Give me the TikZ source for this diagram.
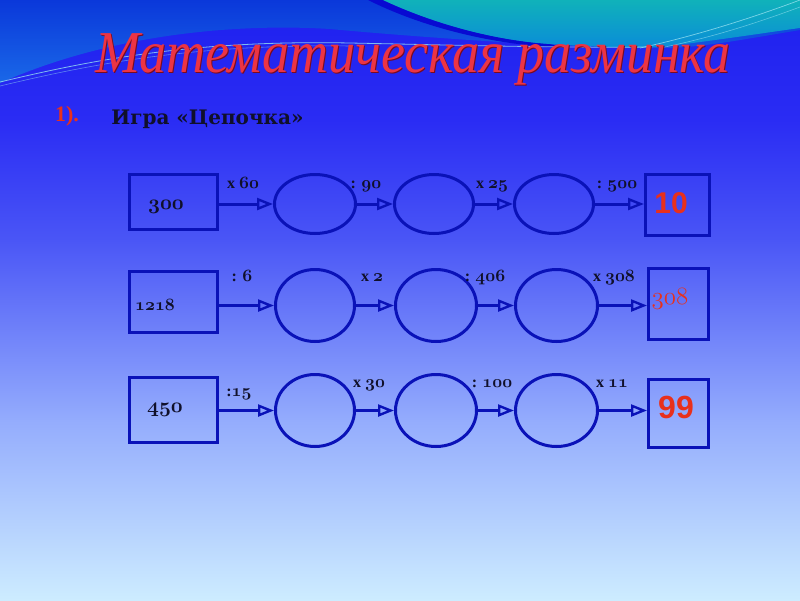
\documentclass[tikz,border=0pt]{standalone}
\usepackage{fontspec}
\setmainfont{Liberation Serif}
\newfontfamily\headfont{DejaVu Serif}
\newfontfamily\redsans{Liberation Sans}
\usetikzlibrary{arrows.meta,shapes.geometric}
\newcommand{\osnb}[1]{{\usefont{OML}{cmm}{b}{it}#1}}
\newcommand{\osnm}[1]{{\usefont{OML}{cmm}{m}{it}#1}}
\definecolor{lineblue}{HTML}{0A12B8}
\definecolor{titlered}{HTML}{EC3444}
\definecolor{titleshadow}{HTML}{7A0A1E}
\definecolor{numred}{HTML}{E8301C}
\definecolor{inkc}{HTML}{10102A}
\definecolor{bgA}{RGB}{30,32,238}
\definecolor{bgB}{RGB}{42,44,244}
\definecolor{bgC}{RGB}{74,86,246}
\definecolor{bgD}{RGB}{148,172,253}
\definecolor{bgE}{RGB}{205,236,255}
\definecolor{hillA}{RGB}{10,56,218}
\definecolor{hillB}{RGB}{26,104,232}
\definecolor{waveDark}{RGB}{8,10,210}
\definecolor{cyanA}{RGB}{16,178,186}
\definecolor{cyanB}{RGB}{10,140,216}
\definecolor{streakA}{RGB}{150,225,240}
\tikzset{
  boxnode/.style={draw=lineblue, line width=3pt, rectangle, inner sep=0pt},
  ovalnode/.style={draw=lineblue, line width=3pt, ellipse, inner sep=0pt},
  chainarrow/.style={draw=lineblue, line width=3pt,
     -{Triangle[open, length=16pt, width=12pt, line width=2.4pt]}},
  oplabel/.style={anchor=base, inner sep=0pt, text=inkc,
     font=\fontsize{16}{18}\selectfont\bfseries},
  startnum/.style={anchor=base, inner sep=0pt, text=inkc},
}
\begin{document}
\begin{tikzpicture}[x=1pt,y=-1pt]
\useasboundingbox (0,0) rectangle (800,600);
% background gradient
\shade[top color=bgA, bottom color=bgB] (0,0) rectangle (800,121);
\shade[top color=bgB, bottom color=bgC] (0,120) rectangle (800,241);
\shade[top color=bgC, bottom color=bgD] (0,240) rectangle (800,421);
\shade[top color=bgD, bottom color=bgE] (0,420) rectangle (800,600);
% top waves
\shade[top color=hillA, bottom color=hillB]
  (0,0) -- (800,0) -- (800,30) .. controls (740,40) and (700,48) .. (660,48)
  .. controls (600,49) and (450,40) .. (330,29) .. controls (250,24) and (120,30) .. (0,83) -- cycle;
\fill[waveDark] (368,0) .. controls (420,26) and (490,45) .. (565,48)
  -- (550,44) .. controls (490,40) and (430,22) .. (383,0) -- cycle;
\shade[top color=cyanA, bottom color=cyanB]
  (383,0) .. controls (430,22) and (490,40) .. (550,44) .. controls (600,47) and (640,48) .. (660,47)
  .. controls (720,40) and (770,32) .. (800,28) -- (800,0) -- cycle;
\draw[streakA, opacity=.8, line width=.8pt] (0,82) .. controls (100,58) and (200,40) .. (350,43)
  .. controls (450,45) and (560,48) .. (650,47);
\draw[streakA, opacity=.5, line width=.6pt] (0,86) .. controls (100,62) and (200,44) .. (350,46);
\draw[streakA, opacity=.8, line width=.7pt] (640,48) .. controls (700,35) and (760,15) .. (800,0);
\draw[streakA, opacity=.6, line width=.6pt] (660,48) .. controls (720,36) and (770,18) .. (800,7);

% title
\node[anchor=base, inner sep=0pt, text=titleshadow] at (414,73)
  {\fontsize{54}{60}\selectfont\itshape\scalebox{1}[1.1]{Математическая разминка}};
\node (title) [anchor=base, inner sep=0pt, text=titlered] at (413,72)
  {\fontsize{54}{60}\selectfont\itshape\scalebox{1}[1.1]{Математическая разминка}};
\node (num) [anchor=base, inner sep=0pt, text=numred] at (67,121)
  {\fontsize{22}{24}\selectfont\bfseries 1).};
\node (game) [anchor=base, inner sep=0pt, text=inkc] at (207.5,124)
  {\fontsize{20}{22}\selectfont\headfont\bfseries Игра «Цепочка»};

% row 1
\node (a1) [boxnode, minimum width=88pt, minimum height=55pt] at (173.5,202) {};
\node (b1) [ovalnode, minimum width=81pt, minimum height=59pt] at (315,204) {};
\node (c1) [ovalnode, minimum width=79pt, minimum height=59pt] at (434,204) {};
\node (d1) [ovalnode, minimum width=79pt, minimum height=59pt] at (554,204) {};
\node (e1) [boxnode, minimum width=64pt, minimum height=61pt] at (677.5,205) {};
\node (s1) [startnum] at (166,209) {\fontsize{22}{24}\selectfont\osnb{300}};
\node (f1) [anchor=center, inner sep=0pt, text=numred] at (671,203) {\fontsize{30}{32}\selectfont\redsans\bfseries 10};
\draw[chainarrow] (a1.east |- b1.center) -- (b1.west);
\draw[chainarrow] (b1.east) -- (c1.west);
\draw[chainarrow] (c1.east) -- (d1.west);
\draw[chainarrow] (d1.east) -- (e1.west |- d1.center);
\node (l11) [oplabel] at (243,188) {x \osnb{60}};
\node (l12) [oplabel] at (366,188) {: \osnb{90}};
\node (l13) [oplabel] at (492,188) {x \osnb{25}};
\node (l14) [oplabel] at (617,188) {: \osnb{500}};

% row 2
\node (a2) [boxnode, minimum width=88pt, minimum height=61pt] at (173.5,302) {};
\node (b2) [ovalnode, minimum width=79pt, minimum height=72pt] at (315,305.5) {};
\node (c2) [ovalnode, minimum width=81pt, minimum height=72pt] at (436,305.5) {};
\node (d2) [ovalnode, minimum width=82pt, minimum height=72pt] at (556.5,305.5) {};
\node (e2) [boxnode, minimum width=60pt, minimum height=71pt] at (678.5,304) {};
\node (s2) [startnum] at (155,310) {\fontsize{18}{20}\selectfont\osnb{1218}};
\node (f2) [anchor=base, inner sep=0pt, text=numred] at (670,304) {\fontsize{25}{27}\selectfont\osnm{308}};
\draw[chainarrow] (a2.east |- b2.center) -- (b2.west);
\draw[chainarrow] (b2.east) -- (c2.west);
\draw[chainarrow] (c2.east) -- (d2.west);
\draw[chainarrow] (d2.east) -- (e2.west |- d2.center);
\node (l21) [oplabel] at (242,281) {: \osnb{6}};
\node (l22) [oplabel] at (372,281) {x \osnb{2}};
\node (l23) [oplabel] at (485,281) {: \osnb{406}};
\node (l24) [oplabel] at (614,281) {x \osnb{308}};

% row 3
\node (a3) [boxnode, minimum width=88pt, minimum height=65pt] at (173.5,410) {};
\node (b3) [ovalnode, minimum width=79pt, minimum height=72pt] at (315,410.5) {};
\node (c3) [ovalnode, minimum width=81pt, minimum height=72pt] at (436,410.5) {};
\node (d3) [ovalnode, minimum width=82pt, minimum height=72pt] at (556.5,410.5) {};
\node (e3) [boxnode, minimum width=60pt, minimum height=68pt] at (678.5,413.5) {};
\node (s3) [startnum] at (165,412) {\fontsize{20}{22}\selectfont\osnb{450}};
\node (f3) [anchor=center, inner sep=0pt, text=numred] at (676,407) {\fontsize{32}{34}\selectfont\redsans\bfseries 99};
\draw[chainarrow] (a3.east |- b3.center) -- (b3.west);
\draw[chainarrow] (b3.east) -- (c3.west);
\draw[chainarrow] (c3.east) -- (d3.west);
\draw[chainarrow] (d3.east) -- (e3.west |- d3.center);
\node (l31) [oplabel] at (239,396) {:\osnb{15}};
\node (l32) [oplabel] at (369,387) {x \osnb{30}};
\node (l33) [oplabel] at (492,387) {: \osnb{100}};
\node (l34) [oplabel] at (612,387) {x \osnb{11}};
\end{tikzpicture}
\end{document}
